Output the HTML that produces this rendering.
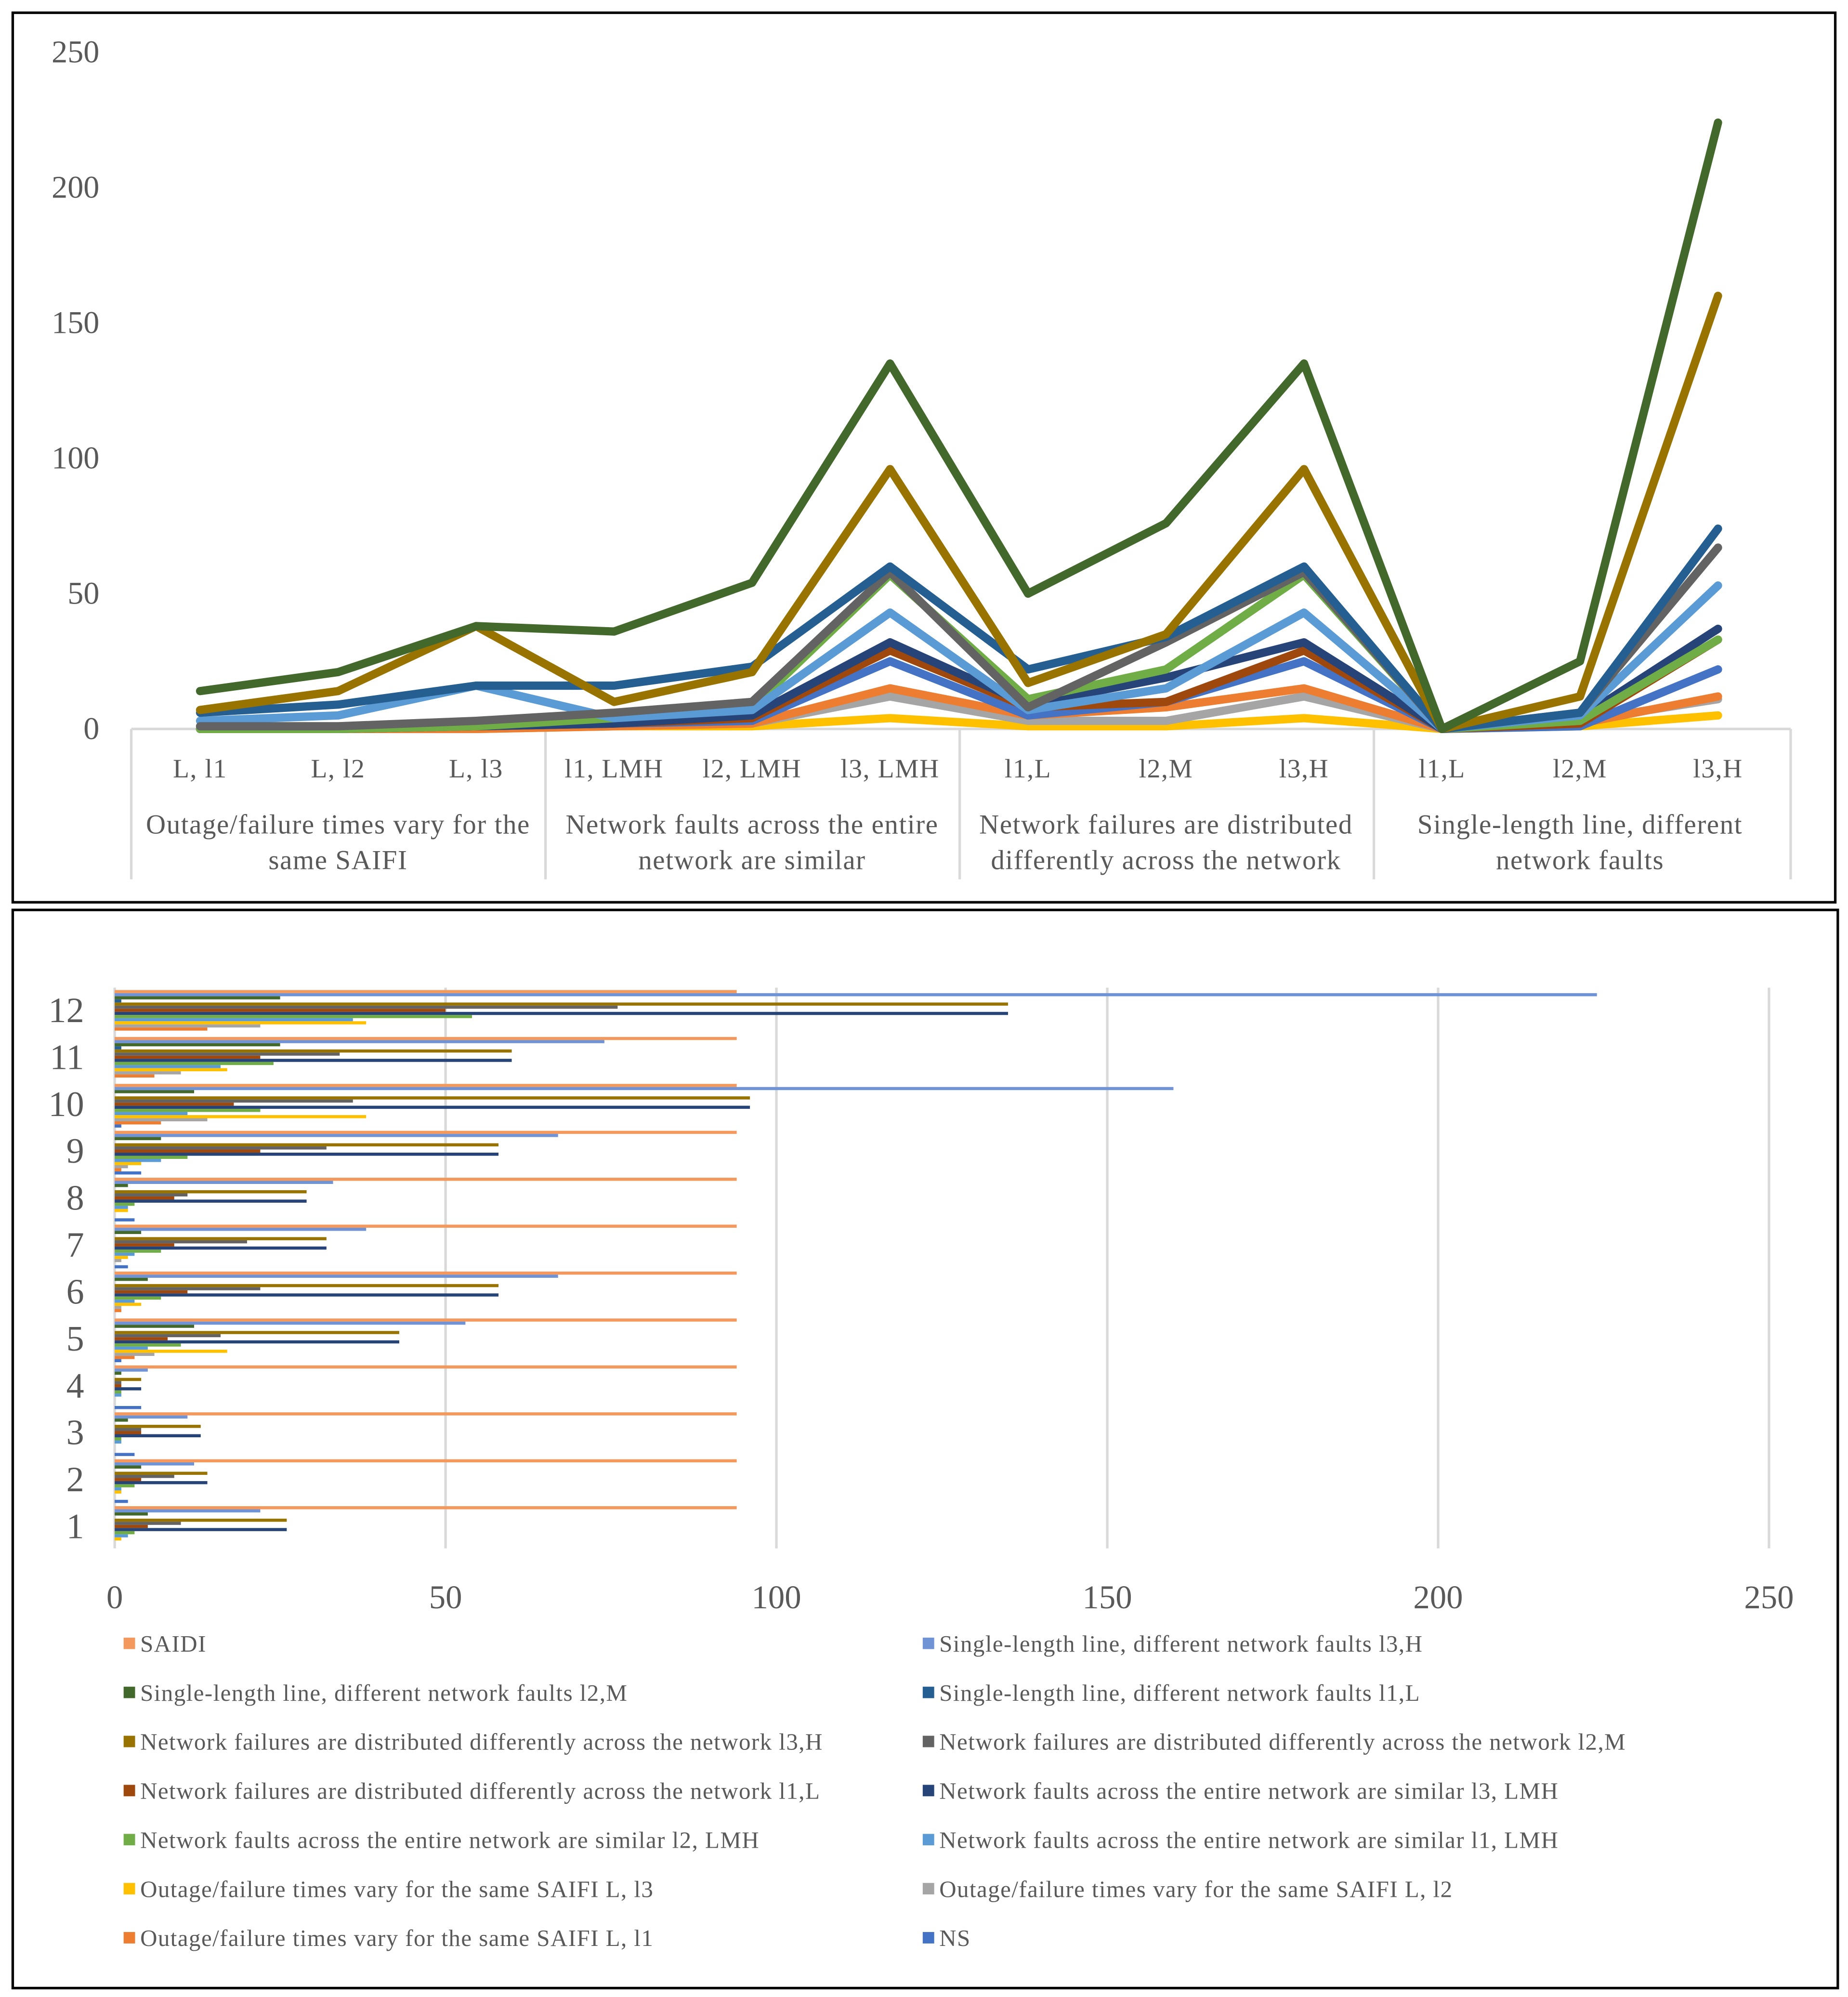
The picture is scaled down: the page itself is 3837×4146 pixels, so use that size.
<!DOCTYPE html>
<html><head><meta charset="utf-8"><style>
html,body{margin:0;padding:0;background:#fff}
svg{display:block}
text{font-family:"Liberation Serif",serif;fill:#595959}
</style></head><body>
<svg id="root" width="3837" height="4146" viewBox="0 0 1450 1567" preserveAspectRatio="none" xmlns="http://www.w3.org/2000/svg">
<rect x="10" y="10" width="1430" height="698" fill="#fff" stroke="#000" stroke-width="2"/>
<rect x="10" y="714" width="1432" height="846" fill="#fff" stroke="#000" stroke-width="2"/>
<g id="lc"></g>
<g id="bc"></g>
</svg>
<script>
// ---- line chart data ----
const lcCategories = ["L, l1","L, l2","L, l3","l1, LMH","l2, LMH","l3, LMH","l1,L","l2,M","l3,H","l1,L","l2,M","l3,H"];
const lcGroups = ["Outage/failure times vary for the|same SAIFI","Network faults across the entire|network are similar","Network failures are distributed|differently across the network","Single-length line, different|network faults"];
const lcYTicks = [0,50,100,150,200,250];
const lcColors = ["#ffc000","#a5a5a5","#ed7d31","#4472c4","#9e480e","#264478","#70ad47","#5b9bd5","#636363","#255e91","#997300","#43682b"];
const lcS1 = [0,0,0,1,1,4,1,1,4,0,1,5];
const lcS2 = [1,1,2,2,2,12,3,3,12,0,3,11];
const lcS3 = [0,0,0,1,2,15,5,8,15,0,2,12];
const lcS4 = [0,0,1,2,3,25,5,10,25,0,1,22];
const lcS5 = [0,0,1,2,4,29,8,10,29,0,2,33];
const lcS6 = [0,0,1,2,5,32,9,19,32,0,4,37];
const lcS7 = [0,0,1,4,8,57,11,22,57,0,3,33];
const lcS8 = [3,5,16,4,7,43,7,15,43,0,5,53];
const lcS9 = [1,1,3,6,10,58,8,32,58,0,6,67];
const lcS10 = [6,9,16,16,23,60,22,34,60,0,6,74];
const lcS11 = [7,14,38,10,21,96,17,35,96,0,12,160];
const lcS12 = [14,21,38,36,54,135,50,76,135,0,25,224];
const lcSeries = [lcS1,lcS2,lcS3,lcS4,lcS5,lcS6,lcS7,lcS8,lcS9,lcS10,lcS11,lcS12];

// ---- bar chart data ----
const bcCategories = ["1","2","3","4","5","6","7","8","9","10","11","12"];
const bcXTicks = [0,50,100,150,200,250];
const bcNames = ["SAIDI","Single-length line, different network faults l3,H","Single-length line, different network faults l2,M","Single-length line, different network faults l1,L","Network failures are distributed differently across the network l3,H","Network failures are distributed differently across the network l2,M","Network failures are distributed differently across the network l1,L","Network faults across the entire network are similar l3, LMH","Network faults across the entire network are similar l2, LMH","Network faults across the entire network are similar l1, LMH","Outage/failure times vary for the same SAIFI L, l3","Outage/failure times vary for the same SAIFI L, l2","Outage/failure times vary for the same SAIFI L, l1","NS"];
const bcColors = ["#f4995e","#6f93d4","#43682b","#255e91","#997300","#636363","#9e480e","#264478","#70ad47","#5b9bd5","#ffc000","#a5a5a5","#ed7d31","#4472c4"];
const bcSAIDI = [94,94,94,94,94,94,94,94,94,94,94,94];
const bcSLl3H = [22,12,11,5,53,67,38,33,67,160,74,224];
const bcSLl2M = [5,4,2,1,12,5,4,2,7,12,25,25];
const bcSLl1L = [0,0,0,0,0,0,0,0,0,0,1,1];
const bcNFl3H = [26,14,13,4,43,58,32,29,58,96,60,135];
const bcNFl2M = [10,9,4,1,16,22,20,11,32,36,34,76];
const bcNFl1L = [5,4,4,1,8,11,9,9,22,18,22,50];
const bcNSl3 = [26,14,13,4,43,58,32,29,58,96,60,135];
const bcNSl2 = [3,3,1,1,10,7,7,3,11,22,24,54];
const bcNSl1 = [2,1,1,1,5,3,3,2,7,11,16,36];
const bcOl3 = [1,1,0,0,17,4,2,2,4,38,17,38];
const bcOl2 = [0,0,0,0,6,1,1,0,2,14,10,22];
const bcOl1 = [0,0,0,0,3,1,0,0,1,7,6,14];
const bcNS = [0,2,3,4,1,0,2,3,4,1,0,0];
const bcSeries = [bcSAIDI,bcSLl3H,bcSLl2M,bcSLl1L,bcNFl3H,bcNFl2M,bcNFl1L,bcNSl3,bcNSl2,bcNSl1,bcOl3,bcOl2,bcOl1,bcNS];

const NS_ = "http://www.w3.org/2000/svg";
function mk(parent, tag, attrs, txt){const e=document.createElementNS(NS_,tag);for(const k in attrs)e.setAttribute(k,attrs[k]);if(txt!==undefined)e.textContent=txt;parent.appendChild(e);return e;}

// ---- line chart ----
const lc = document.getElementById('lc');
const ly = v => 572 - v*(572-41)/250;
const lx = i => 157 + i*(1348-157)/11;
lcYTicks.forEach(t=>{
  const e = mk(lc,'text',{x:78,y:ly(t)+8,'text-anchor':'end','font-size':25},t);
  
  
});
const ax = mk(lc,'line',{x1:103,y1:572,x2:1405,y2:572,stroke:'#d9d9d9','stroke-width':2});


[103,428,753,1078,1405].forEach(x=>{
  const l = mk(lc,'line',{x1:x,y1:572,x2:x,y2:690,stroke:'#d9d9d9','stroke-width':2});
  
  
});
lcCategories.forEach((c,i)=>{
  const e = mk(lc,'text',{x:lx(i),y:610,'text-anchor':'middle','font-size':21,'letter-spacing':'0.6'},c);
  
  
});
lcGroups.forEach((g,i)=>{
  const cx = (lx(i*3)+lx(i*3+2))/2;
  g.split('|').forEach((ln,j)=>{
    const e = mk(lc,'text',{x:cx,y:654+j*28,'text-anchor':'middle','font-size':21.5,'letter-spacing':'0.6'},ln);
    
    
  });
});
lcSeries.forEach((s,k)=>{
  const p = mk(lc,'polyline',{points:s.map((v,i)=>lx(i)+','+ly(v)).join(' '),fill:'none',stroke:lcColors[k],'stroke-width':6.5,'stroke-linejoin':'round','stroke-linecap':'round'});
  
  
});

// ---- bar chart ----
const bc = document.getElementById('bc');
const bx = v => 90 + v*(1388-90)/250;
const catC = i => 1197 - i*(1197-792)/11;
bcXTicks.forEach(t=>{
  const l = mk(bc,'line',{x1:bx(t),y1:775,x2:bx(t),y2:1215,stroke:'#d9d9d9','stroke-width':2});
  
  
  const e = mk(bc,'text',{x:bx(t),y:1262,'text-anchor':'middle','font-size':26},t);
  
  
});
bcCategories.forEach((c,i)=>{
  const e = mk(bc,'text',{x:66,y:catC(i)+10,'text-anchor':'end','font-size':28},c);
  
  
});
const bh = 2.45;
bcSeries.forEach((s,k)=>{
  s.forEach((v,i)=>{
    const y0 = catC(i) - 14*bh/2 + k*bh + 2;
    const r = mk(bc,'rect',{x:bx(0),y:y0,width:Math.max(0,bx(v)-bx(0)),height:bh,fill:bcColors[k]});
    
    
  });
});
bcNames.forEach((n,k)=>{
  const col = k%2, row = Math.floor(k/2);
  const x = col ? 724 : 97, y = 1291 + row*38.5;
  const sw = mk(bc,'rect',{x:x,y:y-6,width:9,height:9,fill:bcColors[k]});
  
  
  const t = mk(bc,'text',{x:x+13,y:y+5,'font-size':18.5,'letter-spacing':'0.55'},n);
  
  
});
</script>
</body></html>
